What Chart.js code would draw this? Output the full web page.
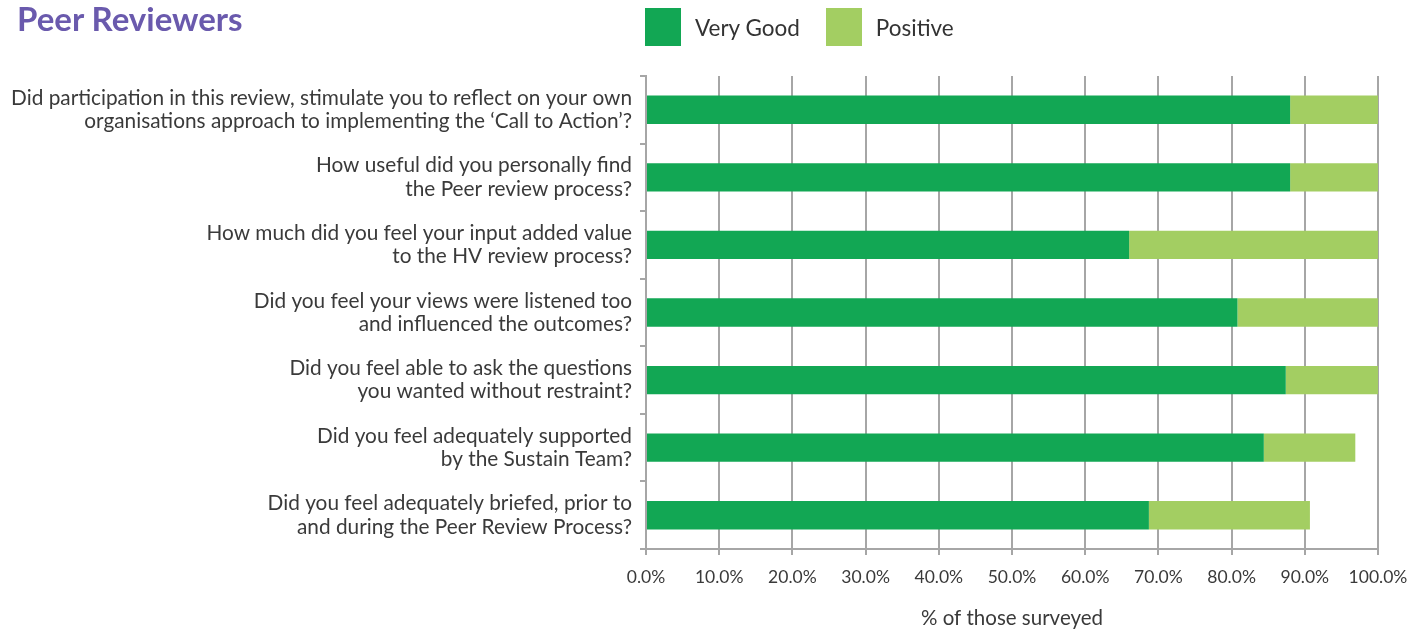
<!DOCTYPE html>
<html>
<head>
<meta charset="utf-8">
<script src="https://cdn.jsdelivr.net/npm/chart.js@4"></script>
<style>
  html, body { margin: 0; padding: 0; background: #fff; }
  #wrap { position: relative; width: 1428px; height: 632px; }
  #title { position: absolute; left: 17px; top: -2px; font: bold 33px "Lato", sans-serif; color: #6a5aad; }
  #legend { position: absolute; left: 645px; top: 8px; display: flex; align-items: center; font: 22.5px "Lato", sans-serif; color: #333; }
  #legend .item { display: flex; align-items: center; margin-right: 26px; }
  #legend .box { width: 36px; height: 38px; margin-right: 14px; }
</style>
</head>
<body>
<div id="wrap">
  <canvas id="chart" width="1428" height="632"></canvas>
  <div id="title">Peer Reviewers</div>
  <div id="legend"></div>
</div>
<script>
// ---------------- DATA ----------------
const questions = [
  ['Did participation in this review, stimulate you to reflect on your own', 'organisations approach to implementing the \u2018Call to Action\u2019?'],
  ['How useful did you personally find', 'the Peer review process?'],
  ['How much did you feel your input added value', 'to the HV review process?'],
  ['Did you feel your views were listened too', 'and influenced the outcomes?'],
  ['Did you feel able to ask the questions', 'you wanted without restraint?'],
  ['Did you feel adequately supported', 'by the Sustain Team?'],
  ['Did you feel adequately briefed, prior to', 'and during the Peer Review Process?']
];
const veryGood = [88.0, 88.0, 66.0, 80.8, 87.4, 84.4, 68.7];
const positive = [12.0, 12.0, 34.0, 19.2, 12.6, 12.5, 22.0];
const xTicks = [0, 10, 20, 30, 40, 50, 60, 70, 80, 90, 100];

const GREEN_DARK = '#12a754';
const GREEN_LIGHT = '#a3ce62';
const AXIS_GREY = '#a6a6a6';
const TEXT = '#3a3a3a';

// ---------------- CHART ----------------
const ctx = document.getElementById('chart').getContext('2d');
const chart = new Chart(ctx, {
  type: 'bar',
  data: {
    labels: questions,
    datasets: [
      { label: 'Very Good', data: veryGood, backgroundColor: GREEN_DARK },
      { label: 'Positive', data: positive, backgroundColor: GREEN_LIGHT }
    ]
  },
  options: {
    indexAxis: 'y',
    responsive: false,
    animation: false,
    layout: { padding: { top: 76, right: 50, bottom: 0, left: 0 } },
    datasets: { bar: { barPercentage: 0.42, categoryPercentage: 1 } },
    plugins: {
      legend: { display: false },
      tooltip: { enabled: false }
    },
    scales: {
      x: {
        stacked: true,
        min: 0,
        max: 100,
        afterBuildTicks: scale => { scale.ticks = xTicks.map(v => ({ value: v })); },
        afterFit: scale => { scale.height = 83; },
        ticks: {
          color: TEXT,
          font: { family: 'Lato', size: 17.5 },
          padding: 12,
          maxRotation: 0,
          callback: v => v.toFixed(1) + '%'
        },
        grid: { color: AXIS_GREY, lineWidth: 2, tickLength: 6 },
        border: { color: AXIS_GREY, width: 2 },
        title: {
          display: true,
          text: '% of those surveyed',
          color: TEXT,
          font: { family: 'Lato', size: 20.5 },
          padding: { top: 0, bottom: 1 }
        }
      },
      y: {
        stacked: true,
        afterFit: scale => { scale.width = 646; },
        ticks: {
          color: TEXT,
          font: { family: 'Lato', size: 20.8, lineHeight: 1.12 },
          padding: 8
        },
        grid: { drawOnChartArea: false, color: AXIS_GREY, lineWidth: 2, tickLength: 6, offset: true },
        border: { color: AXIS_GREY, width: 2 }
      }
    }
  }
});

// HTML legend built from the datasets
const legendEl = document.getElementById('legend');
chart.data.datasets.forEach(ds => {
  const item = document.createElement('div');
  item.className = 'item';
  const box = document.createElement('div');
  box.className = 'box';
  box.style.background = ds.backgroundColor;
  const txt = document.createElement('span');
  txt.textContent = ds.label;
  item.appendChild(box);
  item.appendChild(txt);
  legendEl.appendChild(item);
});
</script>
</body>
</html>
